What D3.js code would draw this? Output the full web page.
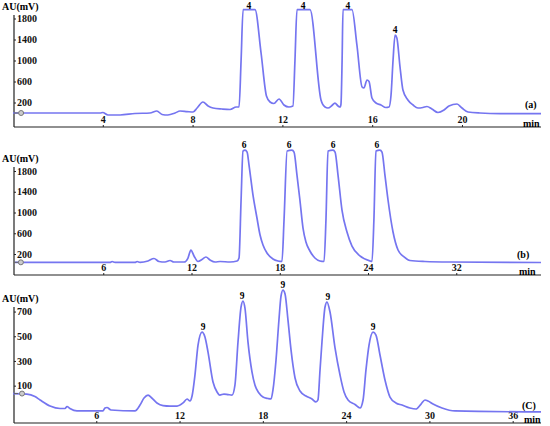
<!DOCTYPE html>
<html>
<head>
<meta charset="utf-8">
<script src="https://cdn.jsdelivr.net/npm/d3@7"></script>
<style>
  body { margin: 0; background: #fff; }
  svg { display: block; }
</style>
</head>
<body>
<div id="chart"></div>
<script>
// chromatogram (a)
const timeA = [0, 3.88, 4.0, 4.23, 4.77, 5.43, 6.1, 6.41, 6.64, 6.9, 7.22, 7.44, 7.75, 8.02, 8.2, 8.46, 8.69, 8.91, 9.31, 9.67, 9.94, 10.07, 10.16, 10.25, 10.74, 10.78, 11.05, 11.29, 11.45, 11.62, 11.85, 12.07, 12.29, 12.47, 12.56, 12.65, 13.23, 13.72, 13.9, 14.03, 14.21, 14.34, 14.48, 14.57, 14.61, 14.66, 14.7, 15.1, 15.32, 15.55, 15.63, 15.77, 15.86, 15.99, 16.17, 16.39, 16.61, 16.75, 16.84, 16.93, 17.02, 17.1, 17.24, 17.37, 17.59, 17.82, 18.04, 18.26, 18.44, 18.66, 18.93, 19.2, 19.42, 19.78, 20.0, 20.27, 20.8, 21.7, 23.52];
const signalA = [0, 0, 10, -38, -38, -10, 0, 38, -28, -38, 0, 38, 28, 19, 95, 210, 133, 95, 76, 67, 114, 114, 1000, 1970, 1970, 1970, 1143, 324, 210, 181, 267, 152, 114, 133, 1000, 1970, 1970, 248, 114, 95, 143, 190, 133, 114, 171, 1000, 1970, 1970, 1295, 495, 476, 629, 600, 286, 190, 152, 105, 114, 343, 1010, 1485, 1430, 876, 438, 248, 152, 95, 105, 124, 76, 10, 57, 133, 171, 95, 19, 0, -10, -10];

// chromatogram (b)
const timeB = [0, 6.46, 6.6, 6.8, 8.16, 8.3, 8.5, 9.04, 9.45, 9.79, 10.2, 10.54, 10.8, 11.5, 11.76, 11.96, 12.17, 12.44, 12.71, 12.98, 13.26, 13.6, 13.94, 14.62, 15.1, 15.23, 15.37, 15.5, 15.64, 15.78, 15.91, 16.18, 16.45, 16.66, 16.86, 17.13, 17.54, 17.88, 18.15, 18.29, 18.5, 18.83, 18.97, 19.17, 19.37, 19.58, 19.78, 20.05, 20.39, 20.73, 21.01, 21.14, 21.28, 21.62, 21.76, 21.96, 22.23, 22.57, 22.91, 23.45, 24.13, 24.27, 24.4, 24.54, 24.81, 24.95, 25.15, 25.36, 25.7, 26.04, 26.45, 26.85, 27.87, 29.57, 35.76];
const signalB = [40, 40, 56, 40, 40, 56, 40, 66, 114, 56, 46, 75, 46, 46, 123, 277, 162, 56, 94, 143, 85, 46, 56, 46, 66, 123, 1241, 2185, 2204, 2165, 1915, 1337, 894, 566, 374, 220, 104, 66, 56, 855, 2185, 2204, 2165, 1722, 1241, 701, 432, 258, 123, 66, 56, 855, 2185, 2204, 2165, 1722, 1048, 624, 354, 162, 66, 56, 855, 2185, 2204, 2165, 1722, 1241, 624, 277, 143, 75, 56, 46, 37];

// chromatogram (C)
const timeC = [0, 1.0, 1.58, 1.95, 2.67, 3.39, 3.75, 3.89, 4.1, 4.61, 6.48, 6.63, 6.77, 7.06, 8.79, 9.15, 9.44, 9.73, 10.0, 10.37, 10.81, 11.31, 11.82, 12.25, 12.54, 12.75, 12.9, 13.11, 13.33, 13.62, 13.83, 14.05, 14.41, 14.7, 14.9, 15.2, 15.49, 15.78, 15.99, 16.21, 16.43, 16.57, 16.71, 16.93, 17.22, 17.43, 17.72, 18.01, 18.37, 18.59, 18.73, 18.95, 19.16, 19.31, 19.45, 19.6, 19.81, 20.03, 20.32, 20.68, 21.11, 21.54, 21.83, 21.97, 22.12, 22.26, 22.48, 22.62, 22.84, 23.2, 23.56, 23.85, 24.14, 24.64, 25.0, 25.22, 25.43, 25.65, 25.94, 26.15, 26.44, 26.8, 27.16, 27.59, 28.03, 28.6, 29.03, 29.4, 29.68, 29.9, 30.26, 30.91, 31.84, 38.04];
const signalC = [36, 32, 12, -16, -65, -85, -85, -69, -85, -105, -105, -81, -77, -97, -105, -57, 0, 24, 0, -40, -61, -65, -65, -40, -8, -24, 16, 186, 429, 534, 494, 372, 130, 49, 24, 32, 28, 24, 105, 453, 737, 785, 729, 453, 210, 105, 40, 8, -4, -8, 65, 308, 632, 826, 874, 842, 632, 389, 162, 57, 16, -8, -32, -16, 227, 453, 737, 777, 696, 405, 186, 49, -16, -53, -81, -16, 227, 429, 534, 510, 348, 146, 8, -40, -57, -81, -89, -49, -16, -24, -49, -81, -105, -113];

// peak annotations
const peakTimeA = [10.51, 12.92, 14.92, 17.02];
const peakValA = [1970, 1970, 1970, 1485];
const peakTimeB = [15.57, 18.63, 21.62, 24.61];
const peakValB = [2204, 2204, 2204, 2204];
const peakTimeC = [13.69, 16.5, 19.45, 22.69, 25.94];
const peakValC = [534, 785, 874, 777, 534];

// axis ticks
const yTicksA = [200, 600, 1000, 1400, 1800];
const yTicksB = [200, 600, 1000, 1400, 1800];
const yTicksC = [100, 300, 500, 700];
const xTicksA = [4, 8, 12, 16, 20];
const xTicksB = [6, 12, 18, 24, 30];
const xTickLabelsB = ["6", "12", "18", "24", "32"];
const xTicksC = [6, 12, 18, 24, 30, 36];

const width = 550, height = 426;
const lineColor = "#7575f0";
const font = "'Liberation Serif', 'Times New Roman', serif";

const svg = d3.select("#chart").append("svg")
    .attr("width", width)
    .attr("height", height);

function drawPanel(p) {
    const x = d3.scaleLinear().domain([0, p.tMax]).range([p.x0, 541]);
    const y = d3.scaleLinear().domain(p.yDomain).range(p.yRange);
    const g = svg.append("g");

    // y axis line + ticks (labels inside, to the right)
    g.append("line")
        .attr("x1", 14).attr("x2", 14)
        .attr("y1", p.axisTop).attr("y2", p.axisBottom)
        .attr("stroke", "#222").attr("stroke-width", 1.2);
    const yAxis = g.append("g")
        .attr("transform", "translate(14,0)")
        .call(d3.axisRight(y).tickValues(p.yTicks).tickSize(2).tickPadding(1).tickFormat(d3.format("d")));
    yAxis.select(".domain").remove();
    yAxis.selectAll("line").attr("stroke", "#222");
    yAxis.selectAll("text")
        .attr("font-family", font).attr("font-weight", "bold").attr("font-size", 10).attr("fill", "#111");

    // x axis at bottom, labels above
    const xAxis = g.append("g")
        .attr("transform", `translate(0,${p.axisBottom})`)
        .call(d3.axisTop(x).tickValues(p.xTicks).tickSize(2).tickPadding(2).tickSizeOuter(0)
            .tickFormat((d, i) => p.xLabels ? p.xLabels[i] : d));
    xAxis.select(".domain").attr("stroke", "#222").attr("stroke-width", 1.2).attr("d", `M14,0H541`);
    xAxis.selectAll("line").attr("stroke", "#222");
    xAxis.selectAll("text")
        .attr("font-family", font).attr("font-weight", "bold").attr("font-size", 10).attr("fill", "#111");

    // trace
    const pts = p.times.map((t, i) => [t, p.values[i]]);
    g.append("path")
        .datum(pts)
        .attr("fill", "none")
        .attr("stroke", lineColor)
        .attr("stroke-width", 1.7)
        .attr("stroke-linejoin", "round")
        .attr("d", d3.line().x(d => x(d[0])).y(d => y(d[1])).curve(d3.curveMonotoneX));

    // zero marker
    const my = y(p.values[0]);
    g.append("line").attr("x1", 14).attr("x2", 18).attr("y1", my).attr("y2", my).attr("stroke", "#666");
    g.append("circle")
        .attr("cx", x(p.markerT)).attr("cy", my).attr("r", 2.5)
        .attr("fill", "#ccc").attr("stroke", "#777").attr("stroke-width", 1);

    // peak labels (kept inside the top edge)
    g.selectAll(".peak")
        .data(p.peakTimes)
        .enter().append("text")
        .attr("class", "peak")
        .attr("x", d => x(d))
        .attr("y", (d, i) => Math.max(y(p.peakVals[i]) - 2.5, 9))
        .attr("text-anchor", "middle")
        .attr("font-family", font).attr("font-weight", "bold").attr("font-size", 9.5)
        .text(p.peakText);

    // texts
    g.append("text").attr("x", 2).attr("y", p.auY)
        .attr("font-family", font).attr("font-weight", "bold").attr("font-size", 10)
        .text("AU(mV)");
    g.append("text").attr("x", p.tagX).attr("y", p.tagY)
        .attr("font-family", font).attr("font-weight", "bold").attr("font-size", 10)
        .text(p.tag);
    g.append("text").attr("x", p.minX).attr("y", p.axisBottom)
        .attr("font-family", font).attr("font-weight", "bold").attr("font-size", 10)
        .text("min");
}

drawPanel({
    times: timeA, values: signalA, tMax: 23.52, x0: 13,
    yDomain: [0, 1800], yRange: [113, 18.5], yTicks: yTicksA, xTicks: xTicksA,
    axisTop: 15, axisBottom: 127, markerT: 0.36,
    peakTimes: peakTimeA, peakVals: peakValA, peakText: "4",
    auY: 10, tag: "(a)", tagX: 525, tagY: 108, minX: 523
});
drawPanel({
    times: timeB, values: signalB, tMax: 35.76, x0: 15,
    yDomain: [0, 1800], yRange: [264.4, 171], yTicks: yTicksB, xTicks: xTicksB, xLabels: xTickLabelsB,
    axisTop: 167, axisBottom: 275, markerT: 0.4,
    peakTimes: peakTimeB, peakVals: peakValB, peakText: "6",
    auY: 162, tag: "(b)", tagX: 517, tagY: 258, minX: 519
});
drawPanel({
    times: timeC, values: signalC, tMax: 38.04, x0: 13,
    yDomain: [0, 700], yRange: [398, 311.55], yTicks: yTicksC, xTicks: xTicksC,
    axisTop: 307, axisBottom: 423, markerT: 0.65,
    peakTimes: peakTimeC, peakVals: peakValC, peakText: "9",
    auY: 302, tag: "(C)", tagX: 522, tagY: 409, minX: 524
});
</script>
</body>
</html>
